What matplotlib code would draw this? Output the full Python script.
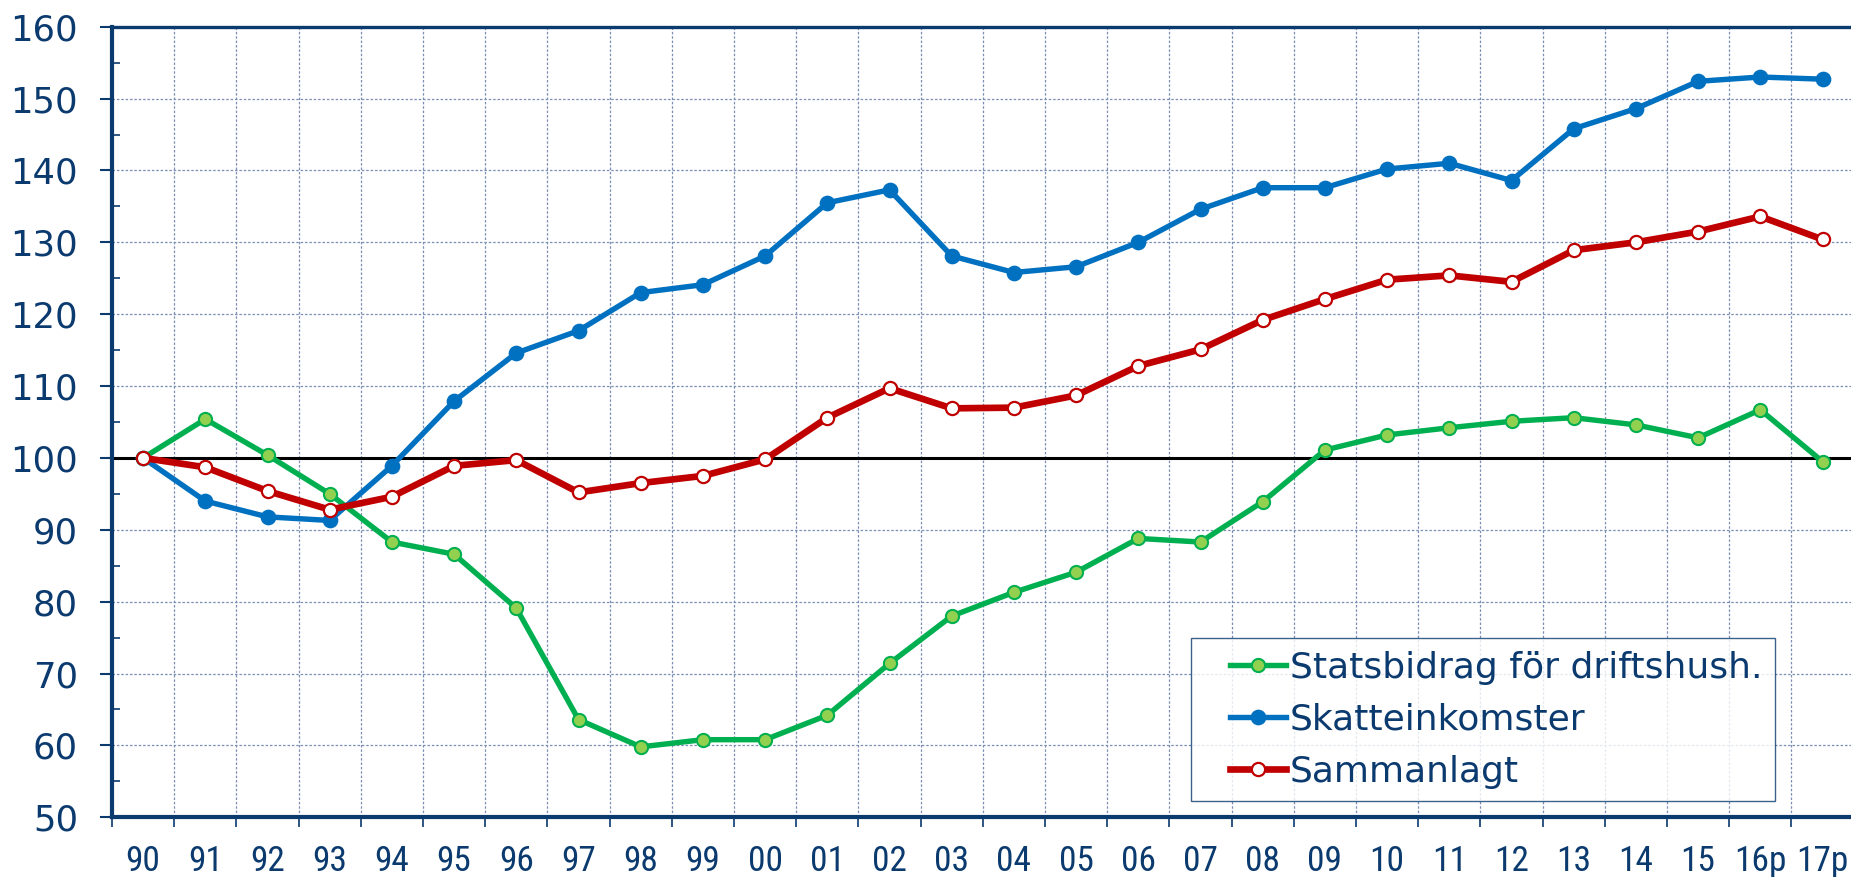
import matplotlib
matplotlib.use("Agg")
import matplotlib.pyplot as plt
from matplotlib import font_manager as fm
from matplotlib.ticker import FixedLocator, MultipleLocator, NullFormatter
from matplotlib.legend_handler import HandlerLine2D

categories = ["90", "91", "92", "93", "94", "95", "96", "97", "98", "99", "00",
              "01", "02", "03", "04", "05", "06", "07", "08", "09", "10", "11",
              "12", "13", "14", "15", "16p", "17p"]

statsbidrag = [100, 105.4, 100.4, 95.0, 88.3, 86.6, 79.1, 63.6, 59.8, 60.8, 60.8,
               64.2, 71.4, 78.0, 81.3, 84.1, 88.8, 88.3, 93.9, 101.1, 103.2, 104.2,
               105.1, 105.6, 104.6, 102.8, 106.7, 99.5]
skatteinkomster = [100, 94.0, 91.8, 91.3, 98.9, 107.9, 114.6, 117.7, 123.0, 124.1, 128.1,
                   135.5, 137.3, 128.1, 125.8, 126.6, 130.0, 134.6, 137.6, 137.6, 140.2, 141.0,
                   138.6, 145.8, 148.6, 152.4, 153.0, 152.7]
sammanlagt = [100, 98.7, 95.4, 92.8, 94.6, 98.9, 99.7, 95.2, 96.5, 97.5, 99.8,
              105.6, 109.7, 106.9, 107.0, 108.7, 112.8, 115.1, 119.2, 122.1, 124.8, 125.4,
              124.5, 128.9, 130.0, 131.5, 133.6, 130.4]

labels = ["Statsbidrag för driftshush.", "Skatteinkomster", "Sammanlagt"]

NAVY = "#0B3A6F"
GRID = "#7A8FB3"

# pick a narrow font for the x labels if one is installed
entries = fm.fontManager.ttflist
names = {f.name for f in entries}
xfont = None
for cand in ["Liberation Sans Narrow", "Arial Narrow", "Roboto Condensed",
             "Open Sans Condensed", "Noto Sans Condensed"]:
    if cand in names:
        xfont = fm.FontProperties(family=cand, size=25.5)
        break
if xfont is None:
    cond = [f for f in entries if f.name in ("Roboto", "Noto Sans", "Open Sans", "Liberation Sans", "DejaVu Sans")
            and str(f.stretch) in ("condensed", "semi-condensed", "extra-condensed", "75", "87.5")
            and f.weight in (400, "normal", "regular")]
    if cond:
        xfont = fm.FontProperties(fname=cond[0].fname, size=25.5)
    else:
        xfont = fm.FontProperties(family="Liberation Sans", size=23)

W, H = 1851, 877
fig = plt.figure(figsize=(W / 100, H / 100), dpi=100)
left, top, bottom = 112, 26.7, 817.3
ax = fig.add_axes([left / W, 1 - bottom / H, (W - left) / W, (bottom - top) / H])

x = list(range(len(categories)))

ax.axhline(100, color="black", lw=2.2, zorder=2)

l_blue, = ax.plot(x, skatteinkomster, color="#0070C0", lw=3.9, marker="o",
                  markersize=10.3, markerfacecolor="#0070C0", markeredgecolor="#0070C0",
                  zorder=3, label=labels[1])
l_green, = ax.plot(x, statsbidrag, color="#00B050", lw=3.9, marker="o",
                   markersize=9.5, markerfacecolor="#92D050", markeredgecolor="#00B050",
                   markeredgewidth=1.5, zorder=4, label=labels[0])
l_red, = ax.plot(x, sammanlagt, color="#C00000", lw=4.8, marker="o",
                 markersize=9.5, markerfacecolor="white", markeredgecolor="#C00000",
                 markeredgewidth=1.6, zorder=5, label=labels[2])

ax.set_xlim(-0.5, -0.5 + (W - left) / 62.2)
ax.set_ylim(50, 160)

# x axis: boundaries as major ticks (with grid), labels on minor ticks at centers
ax.xaxis.set_major_locator(FixedLocator([i - 0.5 for i in range(len(categories) + 1)]))
ax.xaxis.set_major_formatter(NullFormatter())
ax.xaxis.set_minor_locator(FixedLocator(x))
ax.set_xticklabels(categories, minor=True, fontproperties=xfont)
ax.tick_params(axis="x", which="major", length=7.5, width=1.2, color=NAVY, direction="out")
ax.tick_params(axis="x", which="minor", length=0, pad=20, labelcolor=NAVY)

ax.yaxis.set_major_locator(MultipleLocator(10))
ax.yaxis.set_minor_locator(MultipleLocator(5))
ax.tick_params(axis="y", which="major", length=8.5, width=1.5, color=NAVY, direction="out",
               pad=16, labelsize=25.5, labelcolor=NAVY)
ax.tick_params(axis="y", which="minor", length=6, width=1.2, color=NAVY, direction="in")

ax.grid(True, which="major", axis="both", color=GRID, lw=0.9, ls=(0, (2, 1.5)), zorder=0)
ax.set_axisbelow(True)

for s in ["left", "bottom"]:
    ax.spines[s].set_color(NAVY)
    ax.spines[s].set_linewidth(3)
ax.spines["top"].set_color(NAVY)
ax.spines["top"].set_linewidth(2.4)
ax.spines["right"].set_visible(False)

fs = 26
hmap = {l: HandlerLine2D(xpad=0.74) for l in (l_green, l_blue, l_red)}
leg = ax.legend(handles=[l_green, l_blue, l_red], loc="upper left",
                bbox_to_anchor=(1191 / W, 1 - 638 / H), bbox_transform=fig.transFigure,
                fontsize=fs, frameon=True, fancybox=False, handlelength=2.29,
                handletextpad=0.1, borderpad=0.35, labelspacing=0.5, borderaxespad=0,
                handler_map=hmap)
leg.get_frame().set_edgecolor(NAVY)
leg.get_frame().set_linewidth(1.0)
for t in leg.get_texts():
    t.set_color(NAVY)

fig.savefig("out.png", dpi=100)
